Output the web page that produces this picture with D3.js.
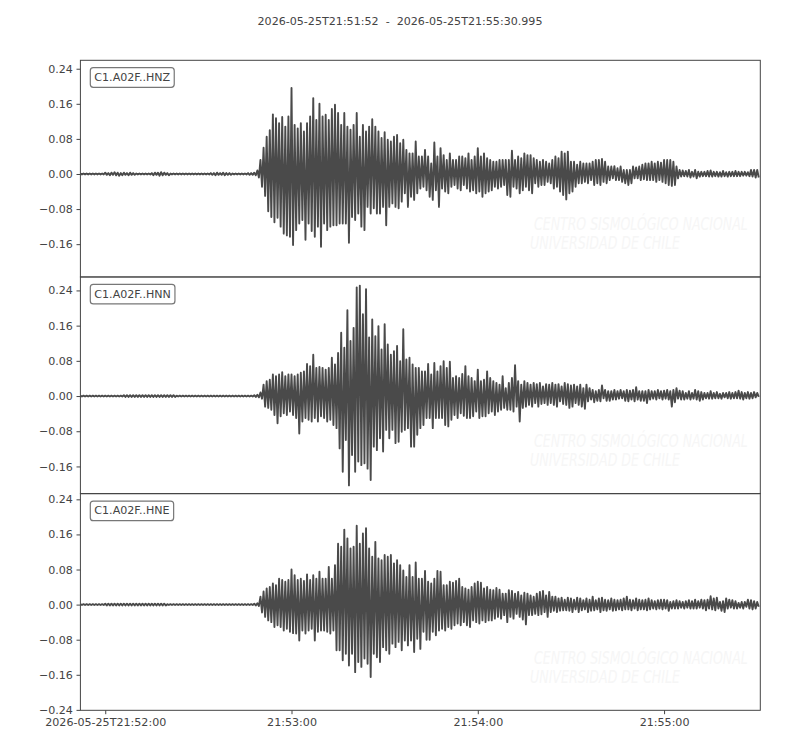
<!DOCTYPE html>
<html><head><meta charset="utf-8">
<script src="https://cdn.jsdelivr.net/npm/d3@7"></script>
<style>body{margin:0;background:#fff} svg{display:block}</style>
</head><body><svg id="c" width="800" height="750"></svg>
<script>
// ---------------- DATA ----------------
const startTime = "2026-05-25T21:51:52";
const endTime = "2026-05-25T21:55:30.995";
const channels = ["C1.A02F..HNZ", "C1.A02F..HNN", "C1.A02F..HNE"];
const binSeconds = 1; // each value pair = max/min of the trace in one second, starting at startTime
const xTickTimes = ["2026-05-25T21:52:00", "2026-05-25T21:53:00", "2026-05-25T21:54:00", "2026-05-25T21:55:00"];
const xTickLabels = ["2026-05-25T21:52:00", "21:53:00", "21:54:00", "21:55:00"];
const yTickValues = [-0.24, -0.16, -0.08, 0.00, 0.08, 0.16, 0.24];
const yLimits = [[-0.2348, 0.2592], [-0.2218, 0.2706], [-0.2410, 0.2530]];
const watermarkLines = ["CENTRO SISMOLÓGICO NACIONAL", "UNIVERSIDAD DE CHILE"];

const hnzMax = [
0.001,0.001,0.001,0.001,0.001,0.001,0.001,0.001,0.003,0.002,
0.003,0.004,0.003,0.002,0.003,0.002,0.003,0.002,0.001,0.001,
0.001,0.001,0.001,0.002,0.003,0.003,0.004,0.003,0.002,0.001,
0.001,0.001,0.001,0.001,0.001,0.001,0.001,0.001,0.001,0.001,
0.001,0.001,0.002,0.002,0.003,0.002,0.003,0.002,0.002,0.001,
0.001,0.001,0.001,0.001,0.002,0.002,0.003,0.008,0.032,0.060,
0.085,0.100,0.136,0.127,0.116,0.130,0.108,0.131,0.196,0.112,
0.104,0.116,0.097,0.116,0.131,0.173,0.123,0.160,0.131,0.135,
0.123,0.148,0.158,0.139,0.112,0.139,0.108,0.101,0.112,0.139,
0.085,0.112,0.097,0.108,0.125,0.108,0.097,0.082,0.095,0.078,
0.074,0.085,0.089,0.070,0.078,0.055,0.047,0.047,0.074,0.040,
0.040,0.055,0.040,0.024,0.072,0.040,0.059,0.043,0.032,0.047,
0.032,0.032,0.040,0.040,0.036,0.047,0.032,0.040,0.059,0.040,
0.047,0.036,0.032,0.028,0.028,0.032,0.032,0.032,0.032,0.053,
0.032,0.040,0.036,0.047,0.043,0.043,0.036,0.032,0.028,0.032,
0.028,0.024,0.032,0.040,0.036,0.051,0.047,0.051,0.028,0.028,
0.021,0.028,0.024,0.024,0.024,0.028,0.032,0.032,0.034,0.028,
0.017,0.017,0.018,0.013,0.017,0.009,0.009,0.009,0.017,0.015,
0.017,0.021,0.024,0.024,0.028,0.024,0.028,0.026,0.032,0.032,
0.032,0.028,0.017,0.009,0.008,0.007,0.009,0.005,0.009,0.005,
0.005,0.005,0.007,0.008,0.005,0.005,0.004,0.007,0.004,0.005,
0.005,0.007,0.005,0.005,0.005,0.004,0.009,0.009,0.009];
const hnzMin = [
-0.001,-0.001,-0.001,-0.001,-0.001,-0.001,-0.001,-0.001,-0.002,-0.003,
-0.002,-0.003,-0.004,-0.003,-0.002,-0.003,-0.002,-0.002,-0.001,-0.001,
-0.001,-0.001,-0.001,-0.003,-0.002,-0.004,-0.003,-0.002,-0.003,-0.001,
-0.001,-0.001,-0.001,-0.001,-0.001,-0.001,-0.001,-0.001,-0.001,-0.001,
-0.001,-0.001,-0.002,-0.003,-0.002,-0.002,-0.003,-0.002,-0.002,-0.001,
-0.001,-0.001,-0.001,-0.001,-0.002,-0.002,-0.003,-0.008,-0.029,-0.050,
-0.085,-0.098,-0.110,-0.100,-0.120,-0.136,-0.140,-0.143,-0.162,-0.128,
-0.113,-0.105,-0.150,-0.113,-0.130,-0.143,-0.120,-0.166,-0.113,-0.128,
-0.120,-0.117,-0.117,-0.113,-0.113,-0.113,-0.157,-0.098,-0.105,-0.090,
-0.120,-0.128,-0.075,-0.090,-0.078,-0.090,-0.090,-0.075,-0.117,-0.075,
-0.067,-0.075,-0.078,-0.063,-0.044,-0.075,-0.052,-0.059,-0.044,-0.033,
-0.029,-0.037,-0.052,-0.059,-0.037,-0.075,-0.033,-0.040,-0.044,-0.029,
-0.025,-0.033,-0.037,-0.025,-0.033,-0.040,-0.037,-0.044,-0.040,-0.052,
-0.044,-0.040,-0.037,-0.029,-0.033,-0.029,-0.025,-0.048,-0.052,-0.029,
-0.033,-0.044,-0.037,-0.029,-0.037,-0.044,-0.021,-0.029,-0.025,-0.025,
-0.018,-0.021,-0.033,-0.029,-0.040,-0.048,-0.058,-0.044,-0.040,-0.029,
-0.021,-0.021,-0.018,-0.021,-0.014,-0.025,-0.021,-0.025,-0.018,-0.021,
-0.014,-0.010,-0.014,-0.014,-0.018,-0.021,-0.025,-0.021,-0.010,-0.010,
-0.014,-0.012,-0.014,-0.014,-0.014,-0.018,-0.014,-0.018,-0.021,-0.025,
-0.027,-0.025,-0.010,-0.006,-0.005,-0.006,-0.008,-0.006,-0.010,-0.006,
-0.005,-0.005,-0.006,-0.006,-0.005,-0.006,-0.006,-0.005,-0.006,-0.005,
-0.005,-0.005,-0.005,-0.004,-0.004,-0.005,-0.006,-0.008,-0.008];

const hnnMax = [
0.001,0.001,0.001,0.001,0.001,0.001,0.001,0.001,0.001,0.001,
0.001,0.001,0.001,0.001,0.002,0.002,0.002,0.002,0.002,0.002,
0.002,0.002,0.002,0.002,0.002,0.002,0.002,0.002,0.002,0.002,
0.002,0.001,0.001,0.001,0.001,0.001,0.001,0.001,0.001,0.001,
0.001,0.001,0.001,0.001,0.001,0.001,0.001,0.001,0.001,0.001,
0.001,0.001,0.001,0.001,0.001,0.001,0.002,0.003,0.008,0.026,
0.034,0.037,0.049,0.045,0.049,0.054,0.045,0.049,0.049,0.045,
0.049,0.053,0.056,0.073,0.068,0.094,0.064,0.066,0.064,0.060,
0.064,0.087,0.072,0.098,0.144,0.110,0.195,0.125,0.155,0.247,
0.251,0.186,0.243,0.133,0.174,0.136,0.159,0.106,0.163,0.117,
0.094,0.102,0.114,0.079,0.152,0.083,0.087,0.072,0.064,0.064,
0.056,0.056,0.073,0.049,0.075,0.056,0.068,0.079,0.064,0.078,
0.041,0.045,0.041,0.050,0.068,0.045,0.041,0.034,0.060,0.034,
0.037,0.056,0.041,0.034,0.030,0.026,0.045,0.018,0.030,0.041,
0.070,0.034,0.026,0.034,0.030,0.026,0.030,0.027,0.030,0.022,
0.027,0.026,0.030,0.026,0.027,0.022,0.030,0.027,0.024,0.026,
0.022,0.026,0.018,0.026,0.018,0.014,0.011,0.014,0.024,0.014,
0.011,0.011,0.014,0.011,0.014,0.011,0.014,0.012,0.014,0.020,
0.011,0.011,0.011,0.014,0.011,0.011,0.014,0.011,0.012,0.014,
0.011,0.014,0.018,0.012,0.011,0.007,0.011,0.007,0.014,0.011,
0.009,0.007,0.007,0.011,0.007,0.009,0.005,0.007,0.007,0.009,
0.007,0.009,0.012,0.009,0.007,0.009,0.007,0.009,0.007];
const hnnMin = [
-0.001,-0.001,-0.001,-0.001,-0.001,-0.001,-0.001,-0.001,-0.001,-0.001,
-0.001,-0.001,-0.001,-0.001,-0.002,-0.002,-0.002,-0.002,-0.002,-0.002,
-0.002,-0.002,-0.002,-0.002,-0.002,-0.002,-0.002,-0.002,-0.002,-0.002,
-0.002,-0.001,-0.001,-0.001,-0.001,-0.001,-0.001,-0.001,-0.001,-0.001,
-0.001,-0.001,-0.001,-0.001,-0.001,-0.001,-0.001,-0.001,-0.001,-0.001,
-0.001,-0.001,-0.001,-0.001,-0.001,-0.001,-0.002,-0.003,-0.006,-0.024,
-0.027,-0.031,-0.043,-0.062,-0.046,-0.039,-0.043,-0.035,-0.043,-0.050,
-0.085,-0.058,-0.050,-0.054,-0.058,-0.050,-0.058,-0.046,-0.050,-0.058,
-0.054,-0.066,-0.073,-0.119,-0.172,-0.100,-0.203,-0.134,-0.172,-0.149,
-0.157,-0.153,-0.165,-0.191,-0.115,-0.123,-0.096,-0.126,-0.077,-0.096,
-0.077,-0.107,-0.104,-0.081,-0.077,-0.073,-0.115,-0.115,-0.088,-0.073,
-0.066,-0.050,-0.050,-0.073,-0.050,-0.050,-0.050,-0.066,-0.069,-0.054,
-0.043,-0.050,-0.039,-0.045,-0.050,-0.050,-0.046,-0.035,-0.050,-0.046,
-0.046,-0.039,-0.035,-0.043,-0.035,-0.031,-0.027,-0.031,-0.031,-0.035,
-0.024,-0.058,-0.027,-0.024,-0.020,-0.024,-0.016,-0.024,-0.018,-0.016,
-0.020,-0.016,-0.020,-0.024,-0.012,-0.018,-0.020,-0.027,-0.024,-0.016,
-0.020,-0.024,-0.029,-0.012,-0.008,-0.014,-0.011,-0.012,-0.005,-0.011,
-0.011,-0.008,-0.008,-0.006,-0.005,-0.011,-0.012,-0.008,-0.012,-0.008,
-0.011,-0.011,-0.016,-0.008,-0.006,-0.008,-0.005,-0.008,-0.006,-0.008,
-0.024,-0.014,-0.006,-0.008,-0.008,-0.006,-0.008,-0.006,-0.008,-0.011,
-0.008,-0.005,-0.006,-0.006,-0.005,-0.005,-0.006,-0.003,-0.005,-0.006,
-0.005,-0.005,-0.006,-0.008,-0.005,-0.006,-0.005,-0.003,-0.002];

const hneMax = [
0.001,0.001,0.001,0.001,0.001,0.001,0.001,0.001,0.002,0.002,
0.002,0.002,0.002,0.002,0.002,0.002,0.002,0.002,0.002,0.002,
0.002,0.002,0.002,0.002,0.002,0.002,0.002,0.002,0.001,0.001,
0.001,0.001,0.001,0.001,0.001,0.001,0.001,0.001,0.001,0.001,
0.001,0.001,0.001,0.001,0.001,0.001,0.001,0.001,0.001,0.001,
0.001,0.001,0.001,0.001,0.001,0.001,0.002,0.003,0.018,0.030,
0.037,0.040,0.048,0.044,0.059,0.056,0.052,0.056,0.080,0.067,
0.056,0.059,0.054,0.069,0.056,0.067,0.059,0.075,0.059,0.059,
0.086,0.059,0.090,0.139,0.132,0.171,0.151,0.128,0.132,0.180,
0.139,0.162,0.174,0.128,0.109,0.143,0.105,0.101,0.113,0.109,
0.113,0.094,0.101,0.090,0.078,0.063,0.090,0.063,0.096,0.059,
0.059,0.077,0.052,0.048,0.059,0.077,0.075,0.044,0.044,0.052,
0.050,0.054,0.059,0.040,0.037,0.034,0.040,0.048,0.052,0.050,
0.037,0.040,0.034,0.033,0.038,0.034,0.025,0.025,0.033,0.031,
0.025,0.029,0.021,0.027,0.025,0.021,0.018,0.025,0.029,0.031,
0.021,0.029,0.018,0.018,0.014,0.016,0.011,0.016,0.014,0.011,
0.016,0.014,0.010,0.014,0.011,0.018,0.010,0.014,0.016,0.011,
0.010,0.014,0.011,0.010,0.011,0.014,0.018,0.011,0.010,0.014,
0.011,0.010,0.011,0.014,0.010,0.008,0.010,0.011,0.011,0.010,
0.006,0.008,0.010,0.008,0.006,0.008,0.010,0.008,0.011,0.008,
0.011,0.010,0.011,0.019,0.014,0.016,0.006,0.008,0.014,0.011,
0.010,0.008,0.004,0.006,0.006,0.011,0.010,0.008,0.006];
const hneMin = [
-0.001,-0.001,-0.001,-0.001,-0.001,-0.001,-0.001,-0.001,-0.002,-0.002,
-0.002,-0.002,-0.002,-0.002,-0.002,-0.002,-0.002,-0.002,-0.002,-0.002,
-0.002,-0.002,-0.002,-0.002,-0.002,-0.002,-0.002,-0.002,-0.001,-0.001,
-0.001,-0.001,-0.001,-0.001,-0.001,-0.001,-0.001,-0.001,-0.001,-0.001,
-0.001,-0.001,-0.001,-0.001,-0.001,-0.001,-0.001,-0.001,-0.001,-0.001,
-0.001,-0.001,-0.001,-0.001,-0.001,-0.001,-0.002,-0.003,-0.018,-0.028,
-0.036,-0.040,-0.051,-0.047,-0.051,-0.059,-0.055,-0.062,-0.065,-0.066,
-0.082,-0.059,-0.066,-0.059,-0.055,-0.082,-0.062,-0.059,-0.059,-0.062,
-0.066,-0.059,-0.104,-0.104,-0.127,-0.112,-0.139,-0.112,-0.154,-0.131,
-0.142,-0.123,-0.135,-0.165,-0.112,-0.120,-0.131,-0.097,-0.104,-0.112,
-0.089,-0.097,-0.085,-0.104,-0.082,-0.093,-0.082,-0.108,-0.078,-0.101,
-0.062,-0.080,-0.080,-0.062,-0.070,-0.059,-0.055,-0.059,-0.051,-0.055,
-0.047,-0.043,-0.047,-0.040,-0.047,-0.051,-0.036,-0.040,-0.043,-0.036,
-0.040,-0.036,-0.036,-0.032,-0.028,-0.032,-0.024,-0.040,-0.028,-0.032,
-0.021,-0.028,-0.034,-0.045,-0.024,-0.024,-0.021,-0.024,-0.022,-0.017,
-0.028,-0.017,-0.014,-0.017,-0.014,-0.013,-0.013,-0.014,-0.017,-0.011,
-0.017,-0.013,-0.011,-0.017,-0.014,-0.013,-0.011,-0.017,-0.013,-0.014,
-0.011,-0.014,-0.013,-0.011,-0.013,-0.011,-0.011,-0.013,-0.009,-0.013,
-0.011,-0.011,-0.013,-0.011,-0.009,-0.011,-0.009,-0.011,-0.009,-0.014,
-0.009,-0.009,-0.009,-0.007,-0.009,-0.007,-0.009,-0.009,-0.009,-0.007,
-0.009,-0.013,-0.009,-0.011,-0.013,-0.009,-0.014,-0.017,-0.009,-0.007,
-0.009,-0.009,-0.007,-0.009,-0.005,-0.009,-0.011,-0.009,-0.005];

const traceMax = [hnzMax, hnnMax, hneMax];
const traceMin = [hnzMin, hnnMin, hneMin];

// ---------------- LAYOUT ----------------
const svg = d3.select("#c");
const FONT = "'DejaVu Sans', sans-serif";
const FS = 11.1;
const TXT = "#444";
const left = 80.4, right = 760.3, top0 = 60.3, ph = 216.67;

const tStart = new Date(startTime + "Z");
const tEnd = new Date(endTime + "Z");
const x = d3.scaleUtc().domain([tStart, tEnd]).range([left, right]);
const xAt = s => x(new Date(tStart.getTime() + s * 1000));

svg.append("rect").attr("width", 800).attr("height", 750).attr("fill", "#fff");

svg.append("text")
  .attr("x", 400).attr("y", 25)
  .attr("text-anchor", "middle")
  .style("white-space", "pre")
  .attr("font-family", FONT).attr("font-size", FS).attr("fill", TXT)
  .text(startTime + "  -  " + endTime);

const fmtY = v => d3.format(".2f")(v).replace("-", "\u2212");

channels.forEach((ch, i) => {
  const top = top0 + i * ph;
  const y = d3.scaleLinear().domain(yLimits[i]).range([top + ph, top]);
  const g = svg.append("g");

  const clipId = "clip" + i;
  svg.append("clipPath").attr("id", clipId)
    .append("rect").attr("x", left).attr("y", top).attr("width", right - left).attr("height", ph);

  // faint watermark text (horizontally condensed with a transform)
  const wmSpec = [[534, 170, 214], [530, 189, 150]];
  watermarkLines.forEach((txt, j) => {
    const [wx, wy, target] = wmSpec[j];
    const t = g.append("text").attr("x", 0).attr("y", 0)
      .attr("font-family", "'DejaVu Sans Condensed', 'DejaVu Sans', sans-serif")
      .attr("font-style", "italic").attr("font-size", 17).attr("fill", "#f6f6f6").text(txt);
    const len = t.node().getComputedTextLength();
    t.attr("transform", `translate(${wx},${top + wy}) scale(${target / len},1)`);
  });

  // waveform: per-second max/min pairs drawn as a zig-zag
  const mx = traceMax[i], mn = traceMin[i];
  const pts = [];
  for (let k = 0; k < mx.length; k++) {
    pts.push([k * binSeconds, mx[k]]);
    pts.push([k * binSeconds + binSeconds / 2, mn[k]]);
  }
  const line = d3.line().x(d => xAt(d[0])).y(d => y(d[1]));
  g.append("path").attr("clip-path", `url(#${clipId})`)
    .attr("d", line(pts)).attr("fill", "none")
    .attr("stroke", "#4a4a4a").attr("stroke-width", 1.9).attr("stroke-linejoin", "round");

  // frame
  g.append("rect").attr("x", left).attr("y", top).attr("width", right - left).attr("height", ph)
    .attr("fill", "none").attr("stroke", "#444").attr("stroke-width", 1);

  // y axis
  const dom = yLimits[i];
  const ay = d3.axisLeft(y)
    .tickValues(yTickValues.filter(v => v >= dom[0] - 1e-9 && v <= dom[1] + 1e-9))
    .tickFormat(fmtY).tickSizeOuter(0).tickSize(3.9).tickPadding(3.6);
  const gy = g.append("g").attr("transform", `translate(${left},0)`).call(ay);
  gy.select(".domain").remove();
  gy.selectAll("line").attr("stroke", "#444");
  gy.selectAll("text").attr("font-family", FONT).attr("font-size", FS).attr("fill", TXT);

  // channel label box
  const box = g.append("rect");
  const lt = g.append("text").attr("x", 94.3).attr("y", top + 20.8)
    .attr("font-family", FONT).attr("font-size", FS).attr("fill", TXT).text(ch);
  const tw = lt.node().getComputedTextLength();
  box.attr("x", 90.3).attr("y", top + 7.4).attr("width", tw + 8).attr("height", 19.6)
    .attr("rx", 3).attr("ry", 3).attr("fill", "#fff").attr("stroke", "#777").attr("stroke-width", 1.2);

  if (i === channels.length - 1) {
    const ax = d3.axisBottom(x)
      .tickValues(xTickTimes.map(s => new Date(s + "Z")))
      .tickFormat((d, j) => xTickLabels[j]).tickSizeOuter(0).tickSize(3.9).tickPadding(3.6);
    const gx = g.append("g").attr("transform", `translate(0,${top + ph})`).call(ax);
    gx.select(".domain").remove();
    gx.selectAll("line").attr("stroke", "#444");
    gx.selectAll("text").attr("font-family", FONT).attr("font-size", FS).attr("fill", TXT);
  }
});
</script>
</body></html>
